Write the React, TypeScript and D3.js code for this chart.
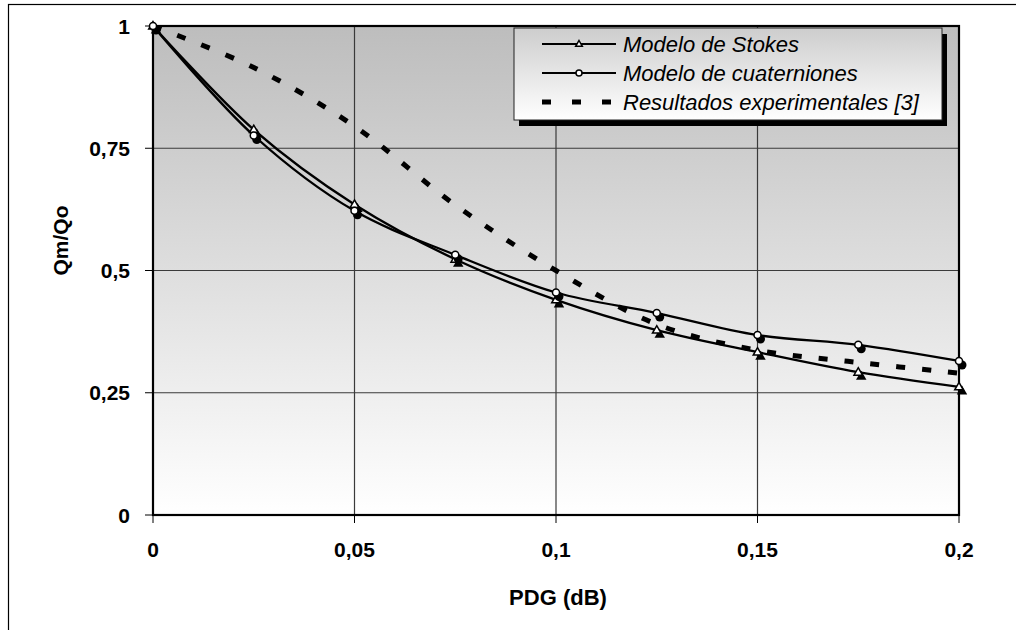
import React from "react";
import * as d3 from "d3";

const xValues = [0, 0.025, 0.05, 0.075, 0.1, 0.125, 0.15, 0.175, 0.2];
const stokes = [1, 0.788, 0.635, 0.523, 0.44, 0.378, 0.333, 0.292, 0.262];
const cuaterniones = [1, 0.776, 0.622, 0.532, 0.455, 0.413, 0.368, 0.348, 0.315];
const experimental = [1, 0.915, 0.795, 0.634, 0.5, 0.39, 0.337, 0.312, 0.29];
const xTicks = [0, 0.05, 0.1, 0.15, 0.2];
const yTicks = [0, 0.25, 0.5, 0.75, 1];
const legendLabels = ["Modelo de Stokes", "Modelo de cuaterniones", "Resultados experimentales [3]"];

const fmt = (v: number) => String(v).replace(".", ",");

export default function App() {
  const L = 153, R = 959, T = 26, B = 515;
  const x = d3.scaleLinear().domain([0, 0.2]).range([L, R]);
  const y = d3.scaleLinear().domain([0, 1]).range([B, T]);
  const line = d3
    .line<number>()
    .x((_, i) => x(xValues[i]))
    .y((d) => y(d))
    .curve(d3.curveCatmullRom.alpha(0.5));
  const font = "'Liberation Sans', Arial, sans-serif";
  const tri = (cx: number, cy: number, s: number) =>
    `M${cx},${cy - s}L${cx + s * 0.95},${cy + s * 0.65}L${cx - s * 0.95},${cy + s * 0.65}Z`;

  const lgX = 514, lgY = 28, lgW = 428, lgH = 92;
  const rows = [44, 73, 102];

  return (
    <svg
      width={1016}
      height={630}
      style={{ position: "absolute", left: 0, top: 0, background: "#fff" }}
      fontFamily={font}
    >
      <defs>
        <linearGradient id="bg" x1="0" y1="0" x2="0" y2="1">
          <stop offset="0" stopColor="#bdbdbd" />
          <stop offset="1" stopColor="#ffffff" />
        </linearGradient>
        <linearGradient id="lg" x1="0" y1="0" x2="0" y2="1">
          <stop offset="0" stopColor="#cdcdcd" />
          <stop offset="1" stopColor="#ffffff" />
        </linearGradient>
      </defs>
      <rect x={8.5} y={4.5} width={1030} height={700} fill="#fff" stroke="#000" strokeWidth={1.2} />
      <rect x={L} y={T} width={R - L} height={B - T} fill="url(#bg)" />
      {/* grid */}
      {yTicks.map((t) => (
        <line key={"gy" + t} x1={L} x2={R} y1={y(t)} y2={y(t)} stroke="#3a3a3a" strokeWidth={1.2} />
      ))}
      {xTicks.map((t) => (
        <line key={"gx" + t} x1={x(t)} x2={x(t)} y1={T} y2={B} stroke="#3a3a3a" strokeWidth={1.2} />
      ))}
      <rect x={L} y={T} width={R - L} height={B - T} fill="none" stroke="#000" strokeWidth={2.2} />
      {/* ticks */}
      {yTicks.map((t) => (
        <g key={"ty" + t}>
          <line x1={L - 8} x2={L} y1={y(t)} y2={y(t)} stroke="#000" strokeWidth={1} />
          <text x={130} y={y(t)} dy="0.36em" textAnchor="end" fontSize={21} fontWeight="bold">
            {fmt(t)}
          </text>
        </g>
      ))}
      {xTicks.map((t) => (
        <g key={"tx" + t}>
          <line x1={x(t)} x2={x(t)} y1={B} y2={B + 8} stroke="#000" strokeWidth={1} />
          <text x={x(t)} y={549} dy="0.36em" textAnchor="middle" fontSize={21} fontWeight="bold">
            {fmt(t)}
          </text>
        </g>
      ))}
      <text x={558} y={597} dy="0.36em" textAnchor="middle" fontSize={22} fontWeight="bold">
        PDG (dB)
      </text>
      <text
        transform={`translate(60,${(T + B) / 2 - 30}) rotate(-90)`}
        dy="0.36em"
        textAnchor="middle"
        fontSize={21}
        fontWeight="bold"
      >
        Qm/Qo
      </text>
      {/* series */}
      <path d={line(experimental) || ""} fill="none" stroke="#000" strokeWidth={5} strokeDasharray="9 17" />
      <path d={line(stokes) || ""} fill="none" stroke="#000" strokeWidth={2.3} />
      <path d={line(cuaterniones) || ""} fill="none" stroke="#000" strokeWidth={2.3} />
      {stokes.map((v, i) => (
        <g key={"s" + i}>
          <path d={tri(x(xValues[i]) + 3, y(v) + 4, 5.5)} fill="#000" />
          <path d={tri(x(xValues[i]), y(v), 4.5)} fill="#fff" stroke="#000" strokeWidth={1.5} />
        </g>
      ))}
      {cuaterniones.map((v, i) => (
        <g key={"c" + i}>
          <circle cx={x(xValues[i]) + 3} cy={y(v) + 4} r={4.5} fill="#000" />
          <circle cx={x(xValues[i])} cy={y(v)} r={3.5} fill="#fff" stroke="#000" strokeWidth={1.5} />
        </g>
      ))}
      {/* legend */}
      <rect x={lgX + 5} y={lgY + 6} width={lgW} height={lgH} fill="#000" />
      <rect x={lgX} y={lgY} width={lgW} height={lgH} fill="url(#lg)" stroke="#222" strokeWidth={1} />
      {legendLabels.map((lab, i) => (
        <g key={"lg" + i}>
          {i < 2 ? (
            <line x1={542} x2={616} y1={rows[i]} y2={rows[i]} stroke="#000" strokeWidth={2} />
          ) : (
            <line x1={542} x2={616} y1={rows[i]} y2={rows[i]} stroke="#000" strokeWidth={5} strokeDasharray="9 21" />
          )}
          {i === 0 && <path d={tri(579, rows[i], 3.5)} fill="#fff" stroke="#000" strokeWidth={1.5} />}
          {i === 1 && <circle cx={579} cy={rows[i]} r={3} fill="#fff" stroke="#000" strokeWidth={1.5} />}
          <text x={623} y={rows[i]} dy="0.36em" fontSize={22} fontStyle="italic">
            {lab}
          </text>
        </g>
      ))}
    </svg>
  );
}
